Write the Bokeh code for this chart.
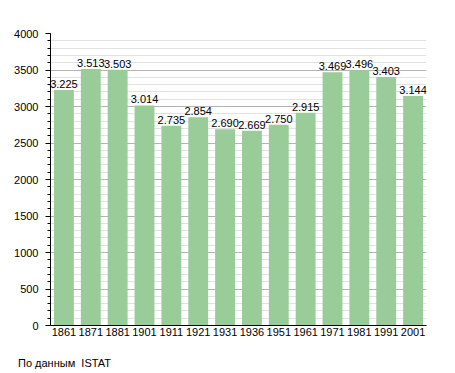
from bokeh.plotting import figure
from bokeh.models import ColumnDataSource, SingleIntervalTicker, FactorRange, Div
from bokeh.layouts import column
from bokeh.embed import file_html
from bokeh.resources import INLINE
from bokeh.core.properties import value

years = ["1861", "1871", "1881", "1901", "1911", "1921", "1931", "1936",
         "1951", "1961", "1971", "1981", "1991", "2001"]
population = [3225, 3513, 3503, 3014, 2735, 2854, 2690, 2669,
              2750, 2915, 3469, 3496, 3403, 3144]
labels = [f"{v:,}".replace(",", ".") for v in population]
source_note = "По данным  ISTAT"

src = ColumnDataSource(dict(x=years, y=population, lab=labels))

p = figure(width=448, height=345, x_range=FactorRange(factors=years, range_padding=0),
           y_range=(0, 4000), output_backend="svg", toolbar_location=None,
           min_border_left=50, min_border_right=22, min_border_top=33, min_border_bottom=20)
p.outline_line_color = None

p.vbar(x="x", top="y", width=0.74, source=src, fill_color="#99cc99", line_color=None)
p.text(x="x", y="y", text="lab", source=src, text_align="center", text_baseline="bottom",
       y_offset=-2, text_font=value("Liberation Sans"), text_font_size="11px", text_color="#000000")

p.yaxis.ticker = SingleIntervalTicker(interval=500, num_minor_ticks=5)
p.ygrid.ticker = p.yaxis.ticker
p.ygrid.grid_line_color = "#b4b4b4"
p.ygrid.minor_grid_line_color = "#e2e2e2"
p.xgrid.grid_line_color = None

for ax in (p.xaxis, p.yaxis):
    ax.axis_line_color = "#000000"
    ax.major_label_text_font = "Liberation Sans"
    ax.major_label_text_font_size = "11px"
    ax.major_label_text_color = "#000000"
    ax.major_label_text_font_style = "normal"

p.yaxis.major_tick_in = 0
p.yaxis.major_tick_out = 5
p.yaxis.minor_tick_in = 0
p.yaxis.minor_tick_out = 3
p.yaxis.major_tick_line_color = "#000000"
p.yaxis.minor_tick_line_color = "#000000"
p.yaxis.major_label_standoff = 7
p.xaxis.major_tick_line_color = None
p.xaxis.minor_tick_line_color = None
p.xaxis.major_tick_in = 0
p.xaxis.major_tick_out = 0
p.xaxis.major_label_standoff = 2

note = Div(text=source_note, width=300, height=26, margin=(0, 0, 0, 0),
           styles={"font-family": "Liberation Sans, sans-serif", "font-size": "11px",
                   "color": "#000000", "padding-left": "18px", "padding-top": "11px",
                   "white-space": "pre"})

layout = column(p, note, spacing=0)
open("out.html", "w").write(file_html(layout, INLINE))
